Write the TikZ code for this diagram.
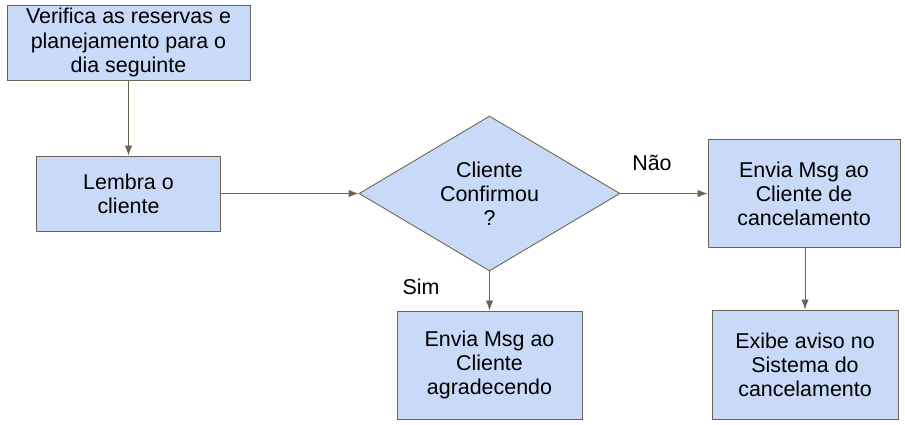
\documentclass[tikz,border=0pt]{standalone}
\usepackage{fontspec}
\setmainfont{Liberation Sans}
\usetikzlibrary{calc, positioning, arrows.meta, shapes.geometric}
\definecolor{boxfill}{HTML}{C9DAF8}
\definecolor{boxline}{HTML}{6B6453}

\begin{document}
\begin{tikzpicture}[
    x=0.02cm, y=-0.02cm,
    >={Latex[length=5.7pt, width=4.2pt]},
    font=\fontsize{12.2}{13.7}\selectfont,
    flowbox/.style={draw=boxline, fill=boxfill, line width=0.5pt, align=center, inner sep=0pt},
    decision/.style={flowbox, diamond, shape aspect=1.68},
    flowline/.style={->, draw=boxline, line width=0.5pt}
]
    \useasboundingbox (0,0) rectangle (905,425);

    % Boxes
    \node[flowbox, minimum width=4.86cm, minimum height=1.5cm] (verifica) at (128.5,42.5)
        {Verifica as reservas e\\planejamento para o\\dia seguinte};
    \node[flowbox, minimum width=3.68cm, minimum height=1.5cm] (lembra) at (128.5,193.5)
        {Lembra o\\cliente};
    \node[decision, minimum width=5.22cm, minimum height=3.1cm] (confirmou) at (489.5,193.5)
        {Cliente\\Confirmou\\?};
    \node[flowbox, minimum width=3.84cm, minimum height=2.16cm] (cancela) at (804,193.5)
        {Envia Msg ao\\Cliente de\\cancelamento};
    \node[flowbox, minimum width=3.7cm, minimum height=2.16cm] (agradece) at (489.5,365)
        {Envia Msg ao\\Cliente\\agradecendo};
    \node[flowbox, minimum width=3.72cm, minimum height=2.18cm] (exibe) at (805,364.5)
        {Exibe aviso no\\Sistema do\\cancelamento};

    % Branch labels
    \node (nao) at (652,163) {Não};
    \node (sim) at (421,287) {Sim};

    % Connectors
    \draw[flowline] (verifica) -- (lembra);
    \draw[flowline] (lembra) -- (confirmou);
    \draw[flowline] (confirmou) -- (cancela);
    \draw[flowline] (confirmou) -- (agradece);
    \draw[flowline] (cancela.south -| exibe.north) -- (exibe.north);

\end{tikzpicture}
\end{document}
